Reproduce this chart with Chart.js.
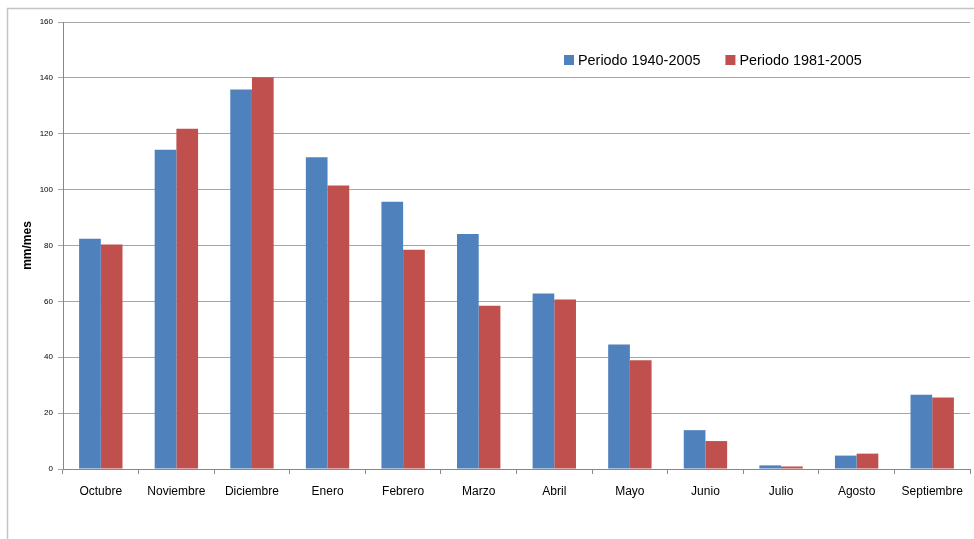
<!DOCTYPE html>
<html>
<head>
<meta charset="utf-8">
<script src="https://cdn.jsdelivr.net/npm/chart.js@4/dist/chart.umd.min.js"></script>
<style>
  html, body { margin: 0; padding: 0; background: #fff; }
  #wrap { width: 974px; height: 539px; position: relative; }
</style>
</head>
<body>
<div id="wrap"><canvas id="rainChart"></canvas></div>
<script>
const months = ["Octubre", "Noviembre", "Diciembre", "Enero", "Febrero", "Marzo",
  "Abril", "Mayo", "Junio", "Julio", "Agosto", "Septiembre"];
const period1940 = [82.4, 114.3, 135.8, 111.6, 95.7, 84.1, 62.8, 44.6, 13.9, 1.3, 4.8, 26.6];
const period1981 = [80.4, 121.8, 140.2, 101.5, 78.5, 58.4, 60.7, 38.9, 10.0, 0.9, 5.5, 25.6];
const seriesNames = ["Periodo 1940-2005", "Periodo 1981-2005"];
const yTicks = [0, 20, 40, 60, 80, 100, 120, 140, 160];

const blue = "#4F81BD";
const red = "#C0504D";
const gridGrey = "#A6A6A6";

// frame round the whole chart, like the spreadsheet chart area
const framePlugin = {
  id: "frame",
  beforeDraw(chart) {
    const ctx = chart.ctx;
    ctx.save();
    ctx.strokeStyle = "#C4C4C4";
    ctx.lineWidth = 1.5;
    ctx.beginPath();
    ctx.moveTo(7.5, 545);
    ctx.lineTo(7.5, 8.5);
    ctx.lineTo(980, 8.5);
    ctx.stroke();
    ctx.restore();
  }
};

// legend drawn inside the plot, top right
const insideLegend = {
  id: "insideLegend",
  afterDraw(chart) {
    const ctx = chart.ctx;
    ctx.save();
    ctx.font = "14.4px 'Liberation Sans', sans-serif";
    ctx.textBaseline = "middle";
    let x = 564;
    const y = 60;
    chart.data.datasets.forEach(ds => {
      ctx.fillStyle = ds.backgroundColor;
      ctx.fillRect(x, y - 5, 10, 10);
      ctx.fillStyle = "#000";
      ctx.fillText(ds.label, x + 14, y + 1);
      x += 14 + ctx.measureText(ds.label).width + 25;
    });
    ctx.restore();
  }
};

new Chart(document.getElementById("rainChart"), {
  type: "bar",
  data: {
    labels: months,
    datasets: [
      { label: seriesNames[0], data: period1940, backgroundColor: blue, borderWidth: 0 },
      { label: seriesNames[1], data: period1981, backgroundColor: red, borderWidth: 0 }
    ]
  },
  options: {
    responsive: true,
    maintainAspectRatio: false,
    animation: false,
    layout: { padding: { top: 22, right: 4, left: 0, bottom: 0 } },
    datasets: { bar: { categoryPercentage: 0.574, barPercentage: 1.0 } },
    plugins: {
      legend: { display: false },
      tooltip: { enabled: false }
    },
    scales: {
      x: {
        grid: { drawOnChartArea: false, drawTicks: true, tickLength: 5, offset: true, color: "#888" },
        border: { color: "#888", width: 1 },
        ticks: { color: "#000", font: { family: "'Liberation Sans', sans-serif", size: 12 }, padding: 10, maxRotation: 0 },
        afterFit(scale) { scale.height = 70; }
      },
      y: {
        min: 0,
        max: 160,
        afterBuildTicks(scale) { scale.ticks = yTicks.map(v => ({ value: v })); },
        grid: { color: gridGrey, tickLength: 5, lineWidth: 1 },
        border: { color: "#888", width: 1 },
        ticks: { color: "#000", font: { family: "'Liberation Sans', sans-serif", size: 8 }, padding: 5 },
        title: {
          display: true, text: "mm/mes", color: "#000",
          font: { family: "'Liberation Sans', sans-serif", size: 12, weight: "bold" },
          padding: { top: 20, bottom: 0 }
        },
        afterFit(scale) { scale.width = 63; }
      }
    }
  },
  plugins: [framePlugin, insideLegend]
});
</script>
</body>
</html>
